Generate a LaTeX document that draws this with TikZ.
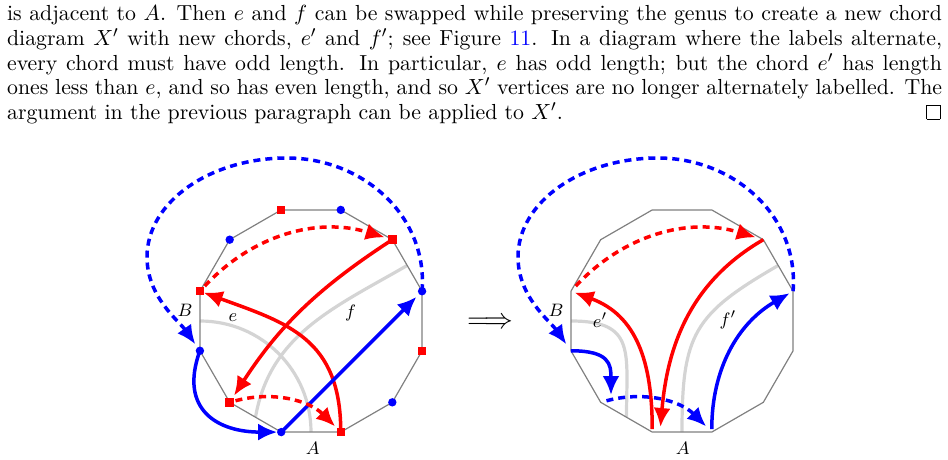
\documentclass[tikz,border=0pt]{standalone}
\usepackage{amssymb}
\usetikzlibrary{arrows.meta}
\newcommand\myqedbox{\leavevmode\hbox to.77778em{\hfil\vrule\vbox to.675em{\hrule width.6em\vfil\hrule}\vrule\hfil}}
\definecolor{chordgray}{gray}{0.83}
\definecolor{polygray}{gray}{0.5}
\begin{document}
\begin{tikzpicture}[x=0.5pt,y=0.5pt,
  poly/.style={draw=polygray, line width=0.6pt},
  gchord/.style={chordgray, line width=1.6pt},
  rch/.style={red, line width=1.75pt},
  bch/.style={blue, line width=1.75pt},
  dsh/.style={dash pattern=on 3.5pt off 2.5pt},
  arr/.style={-{Latex[length=9.5pt,width=8.5pt]}, shorten >=#1},
  arr/.default=4pt,
  rsq/.style={fill=red, rectangle, minimum size=4.2pt, inner sep=0pt},
  bdot/.style={fill=blue, circle, minimum size=4.2pt, inner sep=0pt},
  lab/.style={font=\fontsize{9.5}{11}\selectfont, inner sep=0pt},
  bigloop/.style={bch, dsh, arr},
]
\useasboundingbox (0,0) rectangle (948,-460);

\node[anchor=base west, inner sep=0pt, text width=467.5pt, align=justify,
      font=\fontsize{10.9}{12.33}\selectfont] (para) at (6.7,-20.7)
{is adjacent to $A$. Then $e$ and $f$ can be swapped while preserving the genus to create a new chord\linebreak
diagram $X'$ with new chords, $e'$ and $f'$; see Figure \textcolor{blue}{11}. In a diagram where the labels alternate,\linebreak
every chord must have odd length. In particular, $e$ has odd length; but the chord $e'$ has length\linebreak
ones less than $e$, and so has even length, and so $X'$ vertices are no longer alternately labelled. The\linebreak
argument in the previous paragraph can be applied to $X'$.\hfill\myqedbox};

% ---------- left diagram ----------
\begin{scope}[shift={(311,-321)}]
\foreach \a in {15,45,...,345} \coordinate (L\a) at (\a:115);
\foreach \a in {0,30,...,330} \coordinate (Lm\a) at (\a:111);
\draw[gchord] (Lm180) to[out=0,in=90] (Lm270);
\draw[gchord] (Lm30) to[out=210,in=80] (Lm240);
\draw[poly] (L15) \foreach \a in {45,75,...,345}{ -- (L\a)} -- cycle;
\draw[rch, arr] (L45) to[bend right=12] (L225);
\draw[rch, arr=2pt] (L285) to[out=90,in=-20,looseness=1.2] (L165);
\draw[bch, arr] (L255) -- (L15);
\draw[bch, arr=2pt] (L195) to[out=250,in=180,looseness=1.4] (L255);
\draw[rch, dsh, arr, shorten <=3.5pt] (L165) to[bend left=32] (L45);
\draw[rch, dsh, arr, shorten <=3pt] (L225) to[bend left=30] (L285);
\draw[bigloop] (L15) .. controls (117,106) and (51,163) .. (-24,163)
      .. controls (-101,163) and (-164,119) .. (-164,64)
      .. controls (-164,24) and (-132,0) .. (L195);
\foreach \a in {45,105,...,345} \node[rsq] (Lsq\a) at (L\a) {};
\foreach \a in {15,75,...,315} \node[bdot] (Ldot\a) at (L\a) {};
\node[lab] (LB) at (-126,11) {$B$};
\node[lab] (Le) at (-78,3) {$e$};
\node[lab] (Lf) at (39.7,8) {$f$};
\node[lab] (LA) at (1.7,-127) {$A$};
\end{scope}

\node[font=\fontsize{15}{17}\selectfont, inner sep=0pt] (impl) at (490,-323) {$\Longrightarrow$};

% ---------- right diagram ----------
\begin{scope}[shift={(682,-321)}]
\foreach \a in {15,45,...,345} \coordinate (R\a) at (\a:115);
\foreach \a in {0,30,...,330} \coordinate (Rm\a) at (\a:111);
\coordinate (Rt) at (-22,-111);
\coordinate (Rb) at (-71,-82);
\draw[gchord] (Rm180) to[out=0,in=90,looseness=1.5] (Rm240);
\draw[gchord] (Rm30) to[out=210,in=90,looseness=1.3] (Rm270);
\draw[poly] (R15) \foreach \a in {45,75,...,345}{ -- (R\a)} -- cycle;
\draw[rch, arr=2pt, shorten <=1.5pt] (R255) to[out=90,in=-20,looseness=1.1] (R165);
\draw[rch, arr=2.5pt] (R45) to[out=210,in=85] (Rt);
\draw[bch, arr=2pt, shorten <=1.5pt] (R285) to[out=90,in=210] (R15);
\draw[bch, arr] (R195) to[out=0,in=90,looseness=1.5] (Rb);
\draw[bch, dsh, arr, shorten <=3pt] (R225) to[bend left=30] (R285);
\draw[rch, dsh, arr, shorten <=3.5pt] (R165) to[bend left=32] (R45);
\draw[bigloop] (R15) .. controls (117,106) and (51,163) .. (-24,163)
      .. controls (-101,163) and (-164,119) .. (-164,64)
      .. controls (-164,24) and (-132,0) .. (R195);
\node[lab] (RB) at (-126,11) {$B$};
\node[lab] (Re) at (-82,1) {$e'$};
\node[lab] (Rf) at (46,1) {$f'$};
\node[lab] (RA) at (0.7,-127) {$A$};
\end{scope}
\end{tikzpicture}
\end{document}
